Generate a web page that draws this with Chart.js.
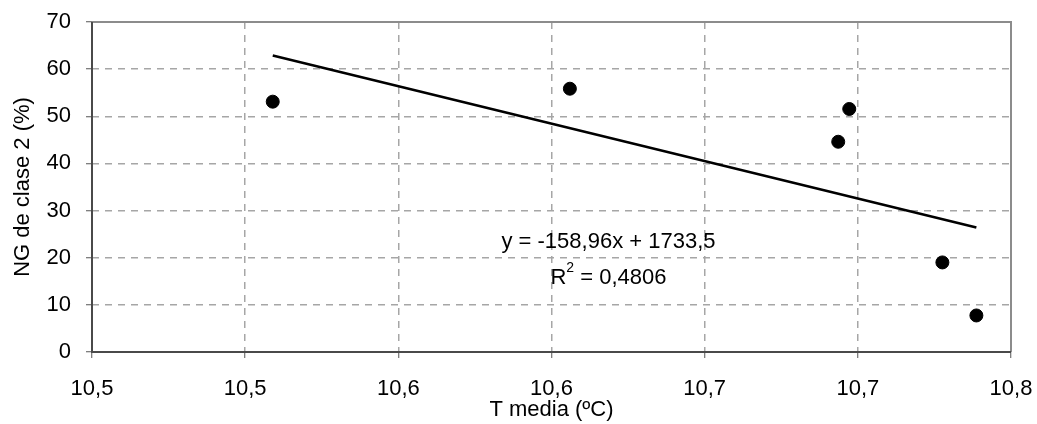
<!DOCTYPE html>
<html>
<head>
<meta charset="utf-8">
<title>NG de clase 2 vs T media</title>
<script src="https://cdn.jsdelivr.net/npm/chart.js@4.4.1/dist/chart.umd.min.js"></script>
<style>
    html, body { margin: 0; padding: 0; background: #fff; }
    #chartBox { width: 1037px; height: 424px; }
</style>
</head>
<body>
<div id="chartBox"><canvas id="scatterChart" width="1037" height="424"></canvas></div>
<script>
// Data
const tempMedia = [10.559, 10.656, 10.7436, 10.7472, 10.7776, 10.7887];
const ngClase2 = [53.1, 55.85, 44.6, 51.55, 19.0, 7.75];

// Trend line end points (as drawn)
const trendX = [10.559, 10.7887];
const trendY = [62.9, 26.4];

// Tick labels as shown on the axes
const xTickLabels = ['10,5', '10,5', '10,6', '10,6', '10,7', '10,7', '10,8'];
const yTickLabels = ['0', '10', '20', '30', '40', '50', '60', '70'];

const trendEquation = 'y = -158,96x + 1733,5';
const trendR2Value = ' = 0,4806';
const xTitle = 'T media (ºC)';
const yTitle = 'NG de clase 2 (%)';

const fontFamily = '"Liberation Sans", Arial, sans-serif';

document.addEventListener('DOMContentLoaded', function () {
    const points = tempMedia.map((x, i) => ({ x: x, y: ngClase2[i] }));
    const trend = trendX.map((x, i) => ({ x: x, y: trendY[i] }));

    // Plot frame + equation text
    const framePlugin = {
        id: 'framePlugin',
        beforeDatasetsDraw(chart) {
            const { ctx, chartArea: a } = chart;
            ctx.save();
            ctx.strokeStyle = '#8c8c8c';
            ctx.lineWidth = 2;
            ctx.beginPath();
            ctx.moveTo(a.left, a.top);
            ctx.lineTo(a.right, a.top);
            ctx.lineTo(a.right, a.bottom);
            ctx.stroke();
            ctx.strokeStyle = '#4a4a4a';
            ctx.beginPath();
            ctx.moveTo(a.left, a.top);
            ctx.lineTo(a.left, a.bottom);
            ctx.lineTo(a.right, a.bottom);
            ctx.stroke();
            ctx.restore();
        },
        afterDatasetsDraw(chart) {
            const { ctx, scales } = chart;
            const cx = scales.x.getPixelForValue(10.6686);
            const y1 = scales.y.getPixelForValue(23.4);
            const y2 = scales.y.getPixelForValue(15.8);
            ctx.save();
            ctx.fillStyle = '#000';
            ctx.font = '22px ' + fontFamily;
            ctx.textBaseline = 'middle';
            ctx.textAlign = 'center';
            ctx.fillText(trendEquation, cx, y1);

            // R^2 line with a raised small 2
            const wR = ctx.measureText('R').width;
            const wRest = ctx.measureText(trendR2Value).width;
            ctx.font = '14px ' + fontFamily;
            const wSup = ctx.measureText('2').width;
            const total = wR + wSup + wRest;
            let left = cx - total / 2;
            ctx.textAlign = 'left';
            ctx.font = '22px ' + fontFamily;
            ctx.fillText('R', left, y2);
            ctx.font = '14px ' + fontFamily;
            ctx.fillText('2', left + wR, y2 - 9);
            ctx.font = '22px ' + fontFamily;
            ctx.fillText(trendR2Value, left + wR + wSup, y2);
            ctx.restore();
        }
    };

    new Chart(document.getElementById('scatterChart'), {
        type: 'scatter',
        data: {
            datasets: [
                {
                    label: 'NG de clase 2',
                    data: points,
                    backgroundColor: '#000',
                    borderColor: '#000',
                    pointRadius: 6.5,
                    pointHoverRadius: 6.5,
                    order: 1
                },
                {
                    label: 'Tendencia',
                    data: trend,
                    showLine: true,
                    borderColor: '#000',
                    borderWidth: 2.5,
                    pointRadius: 0,
                    fill: false,
                    order: 2
                }
            ]
        },
        options: {
            responsive: false,
            animation: false,
            layout: { autoPadding: false, padding: { top: 22, right: 26, left: 0, bottom: 0 } },
            plugins: {
                legend: { display: false },
                tooltip: { enabled: false }
            },
            scales: {
                x: {
                    type: 'linear',
                    min: 10.5,
                    max: 10.8,
                    afterFit: function (scale) {
                        scale.height = 72;
                        scale.paddingLeft = 0;
                        scale.paddingRight = 0;
                    },
                    afterBuildTicks: function (scale) {
                        scale.ticks = xTickLabels.map((t, i) => ({ value: 10.5 + i * 0.05 }));
                    },
                    ticks: {
                        autoSkip: false,
                        maxRotation: 0,
                        padding: 18,
                        color: '#000',
                        font: { family: fontFamily, size: 22 },
                        callback: (v, i) => xTickLabels[i]
                    },
                    grid: {
                        color: '#a6a6a6',
                        lineWidth: 1.5,
                        tickColor: '#555',
                        tickLength: 6,
                        tickWidth: 1
                    },
                    border: { display: false, dash: [7, 6] },
                    title: {
                        display: true,
                        text: xTitle,
                        color: '#000',
                        font: { family: fontFamily, size: 22 },
                        padding: { top: 0, bottom: 1 }
                    }
                },
                y: {
                    min: 0,
                    max: 70,
                    afterFit: function (scale) {
                        scale.width = 92;
                        scale.paddingTop = 0;
                        scale.paddingBottom = 0;
                    },
                    ticks: {
                        stepSize: 10,
                        padding: 15,
                        color: '#000',
                        font: { family: fontFamily, size: 22 },
                        callback: (v, i) => yTickLabels[i]
                    },
                    grid: {
                        color: '#a6a6a6',
                        lineWidth: 1.5,
                        tickColor: '#555',
                        tickLength: 6,
                        tickWidth: 1
                    },
                    border: { display: false, dash: [7, 6] },
                    title: {
                        display: true,
                        text: yTitle,
                        color: '#000',
                        font: { family: fontFamily, size: 22 },
                        padding: { top: 10, bottom: 0 }
                    }
                }
            }
        },
        plugins: [framePlugin]
    });
});
</script>
</body>
</html>
